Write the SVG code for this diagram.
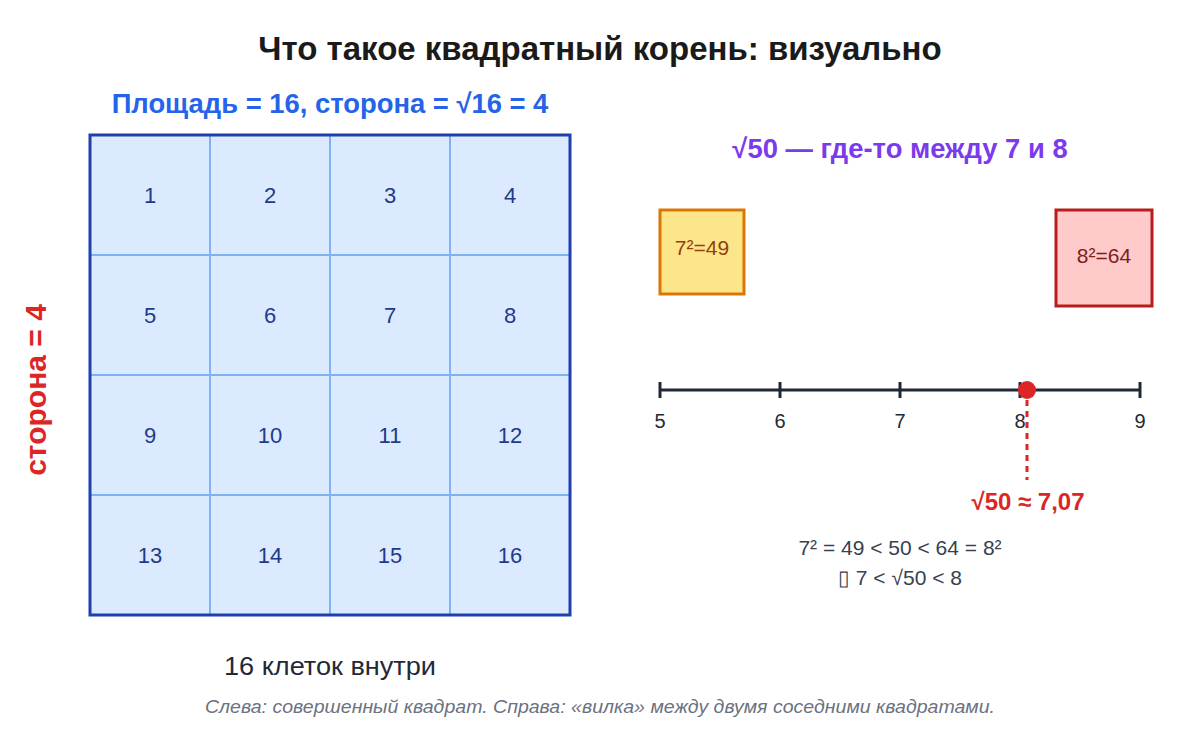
<svg xmlns="http://www.w3.org/2000/svg" width="1200" height="750" viewBox="0 0 1200 750">
<style>
text{font-family:"Liberation Sans",Arial,sans-serif}
.num{font-size:22px;fill:#1e3a8a;text-anchor:middle}
.tick{stroke:#1f2937;stroke-width:3}
.tl{font-size:20px;fill:#1f2937;text-anchor:middle}
</style>
<rect width="1200" height="750" fill="#ffffff"/>
<text x="600" y="60" font-size="33" font-weight="bold" fill="#1a1a1a" text-anchor="middle">Что такое квадратный корень: визуально</text>
<text x="330" y="113" font-size="27.4" font-weight="bold" fill="#2563eb" text-anchor="middle">Площадь = 16, сторона = √16 = 4</text>
<text x="900" y="158" font-size="27.4" font-weight="bold" fill="#7c3aed" text-anchor="middle">√50 — где-то между 7 и 8</text>
<g id="grid">
<rect x="90" y="135" width="480" height="480" fill="#dbeafe"/>
<g stroke="#7fb2f5" stroke-width="2">
<line x1="210" y1="135" x2="210" y2="615"/><line x1="330" y1="135" x2="330" y2="615"/><line x1="450" y1="135" x2="450" y2="615"/>
<line x1="90" y1="255" x2="570" y2="255"/><line x1="90" y1="375" x2="570" y2="375"/><line x1="90" y1="495" x2="570" y2="495"/>
</g>
<rect x="90" y="135" width="480" height="480" fill="none" stroke="#1e40af" stroke-width="3"/>
<text class="num" x="150" y="203">1</text><text class="num" x="270" y="203">2</text><text class="num" x="390" y="203">3</text><text class="num" x="510" y="203">4</text>
<text class="num" x="150" y="323">5</text><text class="num" x="270" y="323">6</text><text class="num" x="390" y="323">7</text><text class="num" x="510" y="323">8</text>
<text class="num" x="150" y="443">9</text><text class="num" x="270" y="443">10</text><text class="num" x="390" y="443">11</text><text class="num" x="510" y="443">12</text>
<text class="num" x="150" y="563">13</text><text class="num" x="270" y="563">14</text><text class="num" x="390" y="563">15</text><text class="num" x="510" y="563">16</text>
</g>
<text transform="translate(46,390) rotate(-90)" font-size="30" font-weight="bold" fill="#dc2626" text-anchor="middle">сторона = 4</text>
<text x="330" y="675" font-size="26" fill="#1f2937" text-anchor="middle" textLength="212" lengthAdjust="spacingAndGlyphs">16 клеток внутри</text>
<g id="sq7">
<rect x="660" y="210" width="84" height="84" fill="#fde68a" stroke="#d97706" stroke-width="3"/>
<text x="702" y="255" font-size="21" fill="#92400e" text-anchor="middle">7²=49</text>
</g>
<g id="sq8">
<rect x="1056" y="210" width="96" height="96" fill="#fecaca" stroke="#b91c1c" stroke-width="3"/>
<text x="1104" y="263" font-size="21" fill="#7f1d1d" text-anchor="middle">8²=64</text>
</g>
<g id="numberline">
<line class="tick" x1="660" y1="390" x2="1140" y2="390"/>
<line class="tick" x1="660" y1="382" x2="660" y2="398"/>
<line class="tick" x1="780" y1="382" x2="780" y2="398"/>
<line class="tick" x1="900" y1="382" x2="900" y2="398"/>
<line class="tick" x1="1020" y1="382" x2="1020" y2="398"/>
<line class="tick" x1="1140" y1="382" x2="1140" y2="398"/>
<text class="tl" x="660" y="428">5</text><text class="tl" x="780" y="428">6</text><text class="tl" x="900" y="428">7</text><text class="tl" x="1020" y="428">8</text><text class="tl" x="1140" y="428">9</text>
</g>
<g id="connectors">
<line x1="1027" y1="400" x2="1027" y2="480" stroke="#dc2626" stroke-width="3" stroke-dasharray="6 5"/>
</g>
<circle cx="1027" cy="390" r="9" fill="#dc2626"/>
<text x="1028" y="510" font-size="24" font-weight="bold" fill="#dc2626" text-anchor="middle">√50 ≈ 7,07</text>
<text x="900" y="555" font-size="21" fill="#374151" text-anchor="middle">7² = 49 &lt; 50 &lt; 64 = 8²</text>
<text x="900" y="585" font-size="21" fill="#374151" text-anchor="middle">▯ 7 &lt; √50 &lt; 8</text>
<text x="600" y="713" font-size="19" font-style="italic" fill="#6b7280" text-anchor="middle" textLength="790" lengthAdjust="spacingAndGlyphs">Слева: совершенный квадрат. Справа: «вилка» между двумя соседними квадратами.</text>
</svg>
